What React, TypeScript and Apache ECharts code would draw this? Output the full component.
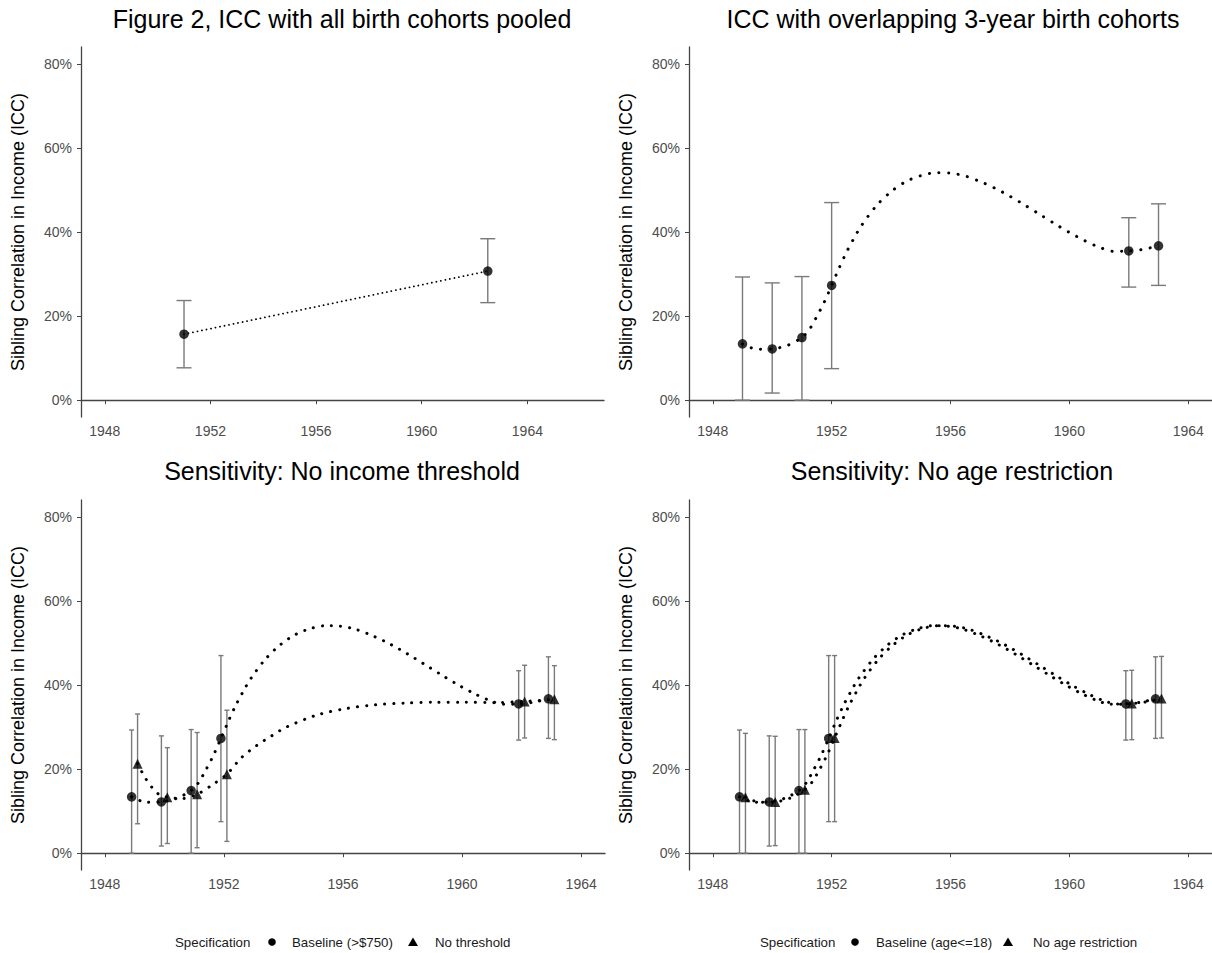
import React, { useEffect, useRef } from 'react';
import * as echarts from 'echarts';

// ---------- DATA ----------
const cohortYears = [1949, 1950, 1951, 1952, 1962, 1963];
const xTicks = [1948, 1952, 1956, 1960, 1964];
const yTicks = [0, 20, 40, 60, 80];

// Panel 1: all cohorts pooled
const pooledYears = [1951, 1962.5];
const pooledEst = [15.7, 30.7];
const pooledLo = [7.7, 23.2];
const pooledHi = [23.7, 38.4];

// Baseline (3-year overlapping cohorts)
const baseEst = [13.4, 12.2, 14.9, 27.3, 35.5, 36.7];
const baseLo = [0.0, 1.7, 0.0, 7.5, 26.9, 27.3];
const baseHi = [29.3, 27.9, 29.4, 47.0, 43.4, 46.7];

// No income threshold
const noThrEst = [21.3, 13.3, 14.0, 18.8, 36.1, 36.6];
const noThrLo = [7.0, 2.3, 1.3, 2.8, 27.4, 27.0];
const noThrHi = [33.1, 25.1, 28.7, 34.0, 44.7, 44.6];

// No age restriction
const noAgeEst = [13.3, 12.2, 15.1, 27.4, 35.6, 36.8];
const noAgeLo = [0.0, 1.8, 0.0, 7.5, 27.0, 27.4];
const noAgeHi = [28.5, 27.8, 29.4, 47.0, 43.5, 46.8];

// Dotted smooth curves
const baseCurveX = [1949, 1949.5, 1950, 1950.5, 1951, 1951.25, 1951.5, 1951.75, 1952, 1952.25, 1952.5, 1952.75, 1953, 1953.5, 1954, 1954.5, 1955, 1955.5, 1956, 1956.5, 1957, 1957.5, 1958, 1958.5, 1959, 1959.5, 1960, 1960.5, 1961, 1961.5, 1962, 1962.5, 1963];
const baseCurveY = [13.4, 12.1, 12.2, 13.0, 14.9, 16.8, 19.9, 23.3, 27.3, 31.4, 35.2, 38.5, 41.5, 46.2, 49.6, 52.0, 53.4, 54.1, 54.0, 53.3, 52.0, 50.4, 48.5, 46.4, 44.2, 42.0, 39.9, 38.0, 36.4, 35.4, 35.5, 35.9, 36.7];

const noThrCurveX = [1949, 1949.25, 1949.5, 1949.75, 1950, 1950.5, 1951, 1951.5, 1952, 1952.5, 1953, 1953.5, 1954, 1955, 1956, 1957, 1958, 1959, 1960, 1961, 1962, 1962.5, 1963];
const noThrCurveY = [21.3, 18.0, 15.5, 13.8, 13.3, 13.0, 14.0, 16.2, 18.8, 22.8, 25.6, 27.9, 30.0, 32.8, 34.4, 35.3, 35.7, 35.9, 35.9, 35.8, 36.1, 36.3, 36.6];

const noAgeCurveX = baseCurveX;
const noAgeCurveY = [13.3, 12.1, 12.2, 13.1, 15.1, 17.0, 20.0, 23.4, 27.4, 31.5, 35.3, 38.6, 41.6, 46.3, 49.7, 52.1, 53.5, 54.1, 54.0, 53.3, 52.0, 50.4, 48.5, 46.4, 44.2, 42.0, 39.9, 38.0, 36.4, 35.5, 35.6, 36.0, 36.8];

// ---------- STYLE ----------
const FONT = 'Liberation Sans, Arial, Helvetica, sans-serif';
const AXIS_COLOR = '#444444';
const LABEL_COLOR = '#4d4d4d';
const BAR_COLOR = '#7a7a7a';
const DODGE = 0.1;

const grids = [
  { left: 81, top: 47, width: 523, height: 370 },
  { left: 689, top: 47, width: 524, height: 370 },
  { left: 81, top: 500, width: 524, height: 370 },
  { left: 689, top: 500, width: 524, height: 370 },
];
const xRanges = [
  [1947.1, 1966.9],
  [1947.2, 1964.8],
  [1947.2, 1964.8],
  [1947.2, 1964.8],
];

function xAxisFor(i: number) {
  return {
    type: 'value', gridIndex: i, min: xRanges[i][0], max: xRanges[i][1],
    axisLine: { show: true, lineStyle: { color: AXIS_COLOR, width: 1.3 } },
    axisTick: { show: true, length: 4, customValues: xTicks, lineStyle: { color: AXIS_COLOR } },
    axisLabel: { customValues: xTicks, color: LABEL_COLOR, fontSize: 14, fontFamily: FONT, margin: 7, formatter: (v: number) => String(v) },
    splitLine: { show: false },
  };
}
function yAxisFor(i: number) {
  return {
    type: 'value', gridIndex: i, min: -4, max: 84,
    name: 'Sibling Correlation in Income (ICC)', nameLocation: 'middle', nameGap: 54,
    nameTextStyle: { color: '#000', fontSize: 18, fontFamily: FONT },
    axisLine: { show: true, lineStyle: { color: AXIS_COLOR, width: 1.3 } },
    axisTick: { show: true, length: 4, customValues: yTicks, lineStyle: { color: AXIS_COLOR } },
    axisLabel: { customValues: yTicks, color: LABEL_COLOR, fontSize: 14, fontFamily: FONT, margin: 9, formatter: (v: number) => v + '%' },
    splitLine: { show: false },
  };
}

function errorBars(idx: number, xs: number[], lo: number[], hi: number[], shift: number, capHalf: number, lw: number) {
  return {
    type: 'custom', xAxisIndex: idx, yAxisIndex: idx, silent: true, z: 2,
    data: xs.map((x, i) => [x + shift, lo[i], hi[i]]),
    encode: { x: 0, y: [1, 2] },
    renderItem: (_p: any, api: any) => {
      const x = api.value(0);
      const a = api.coord([x, api.value(2)]);
      const b = api.coord([x, api.value(1)]);
      const style = { stroke: BAR_COLOR, lineWidth: lw, fill: null };
      return {
        type: 'group',
        children: [
          { type: 'line', shape: { x1: a[0], y1: a[1], x2: b[0], y2: b[1] }, style },
          { type: 'line', shape: { x1: a[0] - capHalf, y1: a[1], x2: a[0] + capHalf, y2: a[1] }, style },
          { type: 'line', shape: { x1: b[0] - capHalf, y1: b[1], x2: b[0] + capHalf, y2: b[1] }, style },
        ],
      };
    },
  };
}
function points(idx: number, name: string, xs: number[], ys: number[], shift: number, symbol: string, size: number) {
  return {
    type: 'scatter', name, xAxisIndex: idx, yAxisIndex: idx, z: 4, silent: true,
    symbol, symbolSize: size, itemStyle: { color: '#000' },
    data: xs.map((x, i) => [x + shift, ys[i]]),
  };
}
function curve(idx: number, xs: number[], ys: number[], shift: number, width: number, gap: number) {
  return {
    type: 'line', xAxisIndex: idx, yAxisIndex: idx, z: 3, silent: true,
    showSymbol: false, smooth: 0.3,
    lineStyle: { color: '#000', width, type: [0.1, gap], cap: 'round' },
    data: xs.map((x, i) => [x + shift, ys[i]]),
  };
}

const titles = [
  { text: 'Figure 2, ICC with all birth cohorts pooled', x: 342, y: 19 },
  { text: 'ICC with overlapping 3-year birth cohorts', x: 953, y: 19 },
  { text: 'Sensitivity: No income threshold', x: 342, y: 471 },
  { text: 'Sensitivity: No age restriction', x: 952, y: 471 },
];

function legendGraphic(x0: number, circleX: number, t1X: number, triX: number, t2X: number, label1: string, label2: string, y: number) {
  const ts = { fill: '#1a1a1a', fontSize: 13.3, fontFamily: FONT, verticalAlign: 'middle', align: 'left' };
  return [
    { type: 'text', x: x0, y, style: { ...ts, text: 'Specification' } },
    { type: 'circle', shape: { cx: circleX, cy: y, r: 3.8 }, style: { fill: '#000' } },
    { type: 'text', x: t1X, y, style: { ...ts, text: label1 } },
    { type: 'polygon', shape: { points: [[triX, y - 4.5], [triX + 5, y + 4], [triX - 5, y + 4]] }, style: { fill: '#000' } },
    { type: 'text', x: t2X, y, style: { ...ts, text: label2 } },
  ];
}

const option: any = {
  animation: false,
  backgroundColor: '#ffffff',
  grid: grids.map(g => ({ ...g, containLabel: false })),
  xAxis: [0, 1, 2, 3].map(xAxisFor),
  yAxis: [0, 1, 2, 3].map(yAxisFor),
  series: [
    // panel 1
    curve(0, pooledYears, pooledEst, 0, 1.8, 4.5),
    errorBars(0, pooledYears, pooledLo, pooledHi, 0, 7.5, 1.4),
    points(0, 'Pooled', pooledYears, pooledEst, 0, 'circle', 9.5),
    // panel 2
    curve(1, baseCurveX, baseCurveY, 0, 3, 9.5),
    errorBars(1, cohortYears, baseLo, baseHi, 0, 7.5, 1.4),
    points(1, 'Baseline', cohortYears, baseEst, 0, 'circle', 9.5),
    // panel 3
    curve(2, baseCurveX, baseCurveY, -DODGE, 3, 9),
    curve(2, noThrCurveX, noThrCurveY, DODGE, 3, 9),
    errorBars(2, cohortYears, baseLo, baseHi, -DODGE, 2.5, 1.4),
    errorBars(2, cohortYears, noThrLo, noThrHi, DODGE, 2.5, 1.4),
    points(2, 'Baseline (>$750)', cohortYears, baseEst, -DODGE, 'circle', 9.5),
    points(2, 'No threshold', cohortYears, noThrEst, DODGE, 'triangle', 10),
    // panel 4
    curve(3, baseCurveX, baseCurveY, -DODGE, 3, 9),
    curve(3, noAgeCurveX, noAgeCurveY, DODGE, 3, 9),
    errorBars(3, cohortYears, baseLo, baseHi, -DODGE, 2.5, 1.4),
    errorBars(3, cohortYears, noAgeLo, noAgeHi, DODGE, 2.5, 1.4),
    points(3, 'Baseline (age<=18)', cohortYears, baseEst, -DODGE, 'circle', 9.5),
    points(3, 'No age restriction', cohortYears, noAgeEst, DODGE, 'triangle', 10),
  ],
  graphic: [
    ...titles.map(t => ({
      type: 'text', x: t.x, y: t.y,
      style: { text: t.text, fill: '#000', fontSize: 25, fontFamily: FONT, align: 'center', verticalAlign: 'middle' },
    })),
    ...legendGraphic(175, 272, 292, 413, 435, 'Baseline (>$750)', 'No threshold', 942),
    ...legendGraphic(760, 855, 876, 1008, 1033, 'Baseline (age<=18)', 'No age restriction', 942),
  ],
};

export default function App() {
  const ref = useRef<HTMLDivElement>(null);
  useEffect(() => {
    document.body.style.margin = '0';
    const chart = echarts.init(ref.current!, null, { renderer: 'svg' });
    chart.setOption(option);
    return () => chart.dispose();
  }, []);
  return <div ref={ref} style={{ width: 1212, height: 953, background: '#fff' }} />;
}
